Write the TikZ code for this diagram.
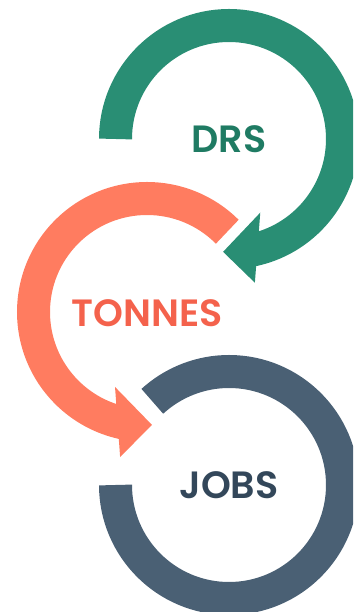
\documentclass[tikz,border=0pt]{standalone}
\usepackage{fontspec}
\setmainfont{Poppins}[BoldFont={Poppins SemiBold}]
\usetikzlibrary{calc}
\definecolor{DRSGreen}{HTML}{298E74}
\definecolor{DRSText}{HTML}{1F7B63}
\definecolor{TonSalmon}{HTML}{FF7C60}
\definecolor{TonText}{HTML}{F4624C}
\definecolor{JobSlate}{HTML}{4A6074}
\definecolor{JobText}{HTML}{33475A}

\begin{document}
\begin{tikzpicture}[x=1pt,y=1pt,
  ring/.style={line width=33pt},
  lbl/.style={font=\fontsize{38}{40}\selectfont\bfseries,inner sep=0pt}]
\useasboundingbox (0,0) rectangle (353,612);
\clip (0,0) rectangle (353,612);
\coordinate (g) at (229,473);
\coordinate (s) at (147,300);
\coordinate (j) at (229,127);
% DRS loop
\draw[ring,DRSGreen] ($(g)+(180:113.5)$) arc[start angle=180,end angle=-79,radius=113.5];
\fill[DRSGreen] ($(g)+(-67:80)$) -- ($(g)+(-93:113)$) -- ($(g)+(-79.8:146)$) -- cycle;
\node[lbl,text=DRSText] (drs) at (g) {DRS};
% TONNES loop
\draw[ring,TonSalmon] ($(s)+(45:113.5)$) arc[start angle=45,end angle=258,radius=113.5];
\fill[TonSalmon] ($(s)+(246.9:81.5)$) -- ($(s)+(272.5:113)$) -- ($(s)+(259.5:147.5)$) -- cycle;
\node[lbl,text=TonText] (tonnes) at ([yshift=-1.5]s) {TONNES};
% JOBS loop
\draw[ring,JobSlate] ($(j)+(180:113.5)$) arc[start angle=180,end angle=492.5,radius=113.5];
\node[lbl,text=JobText] (jobs) at (j) {JOBS};
\end{tikzpicture}
\end{document}
